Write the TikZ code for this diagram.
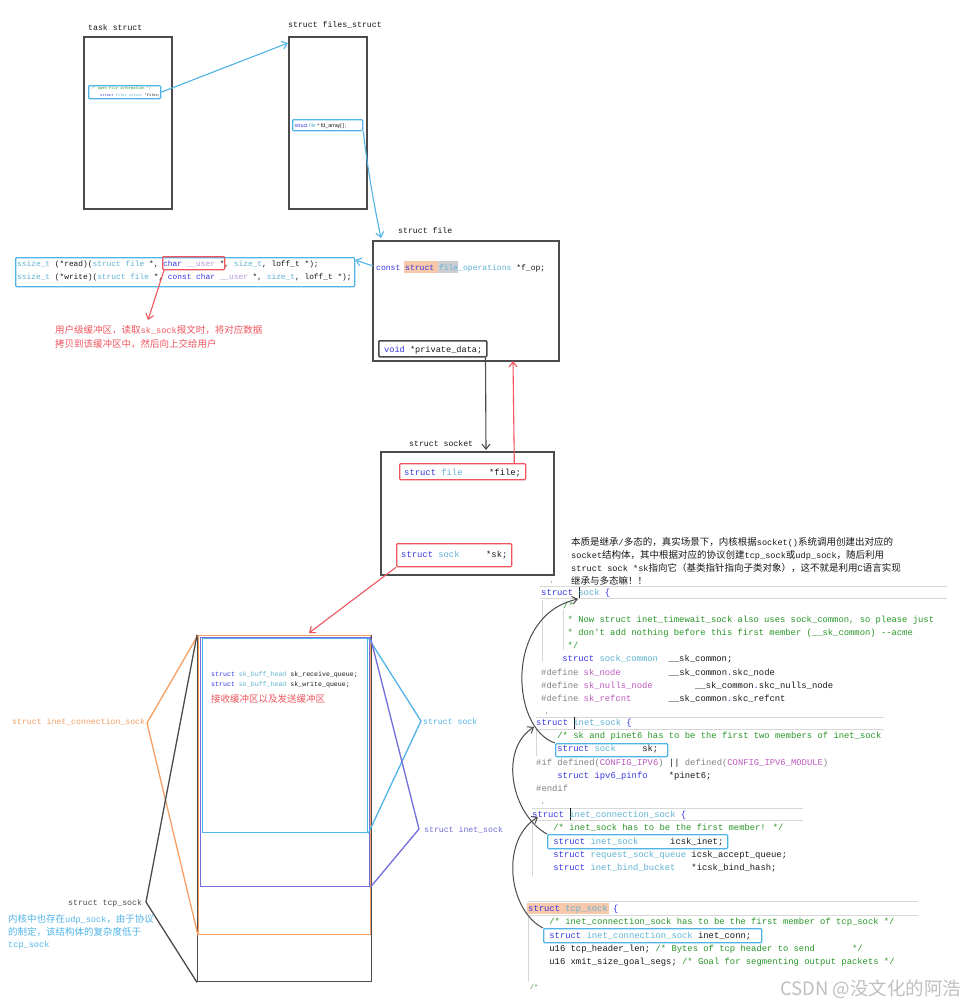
\documentclass[tikz,border=0pt]{standalone}
\usepackage{fontspec}
\usetikzlibrary{arrows.meta,calc}
\newfontfamily\codefont{Liberation Mono}
\newfontfamily\sansfnt{Liberation Sans}
\newfontfamily\cjk{Noto Sans CJK SC}
\definecolor{skyb}{RGB}{80,180,232}
\definecolor{redc}{RGB}{240,85,95}
\definecolor{orgc}{RGB}{246,160,100}
\definecolor{purc}{RGB}{115,110,220}
\definecolor{grayc}{RGB}{75,75,75}
\definecolor{kw}{RGB}{55,55,225}
\definecolor{ty}{RGB}{95,178,210}
\definecolor{cm}{RGB}{40,150,40}
\definecolor{pp}{RGB}{130,130,130}
\definecolor{mac}{RGB}{190,90,190}
\definecolor{usr}{RGB}{180,150,220}
\definecolor{idc}{RGB}{25,25,25}
\definecolor{hlo}{RGB}{248,200,170}
\definecolor{hlg}{RGB}{205,205,210}
\definecolor{guide}{RGB}{215,215,215}
\newcommand\ckw[1]{\textcolor{kw}{#1}}
\newcommand\cty[1]{\textcolor{ty}{#1}}
\newcommand\ccm[1]{\textcolor{cm}{#1}}
\newcommand\cpp[1]{\textcolor{pp}{#1}}
\newcommand\cmc[1]{\textcolor{mac}{#1}}
\newcommand\cus[1]{\textcolor{usr}{#1}}
\newcommand\zhl[1]{{\codefont\fontsize{8.6}{10}\selectfont #1}}
\begin{document}
\begin{tikzpicture}[x=1pt,y=-1pt,
  box/.style={draw=grayc,line width=1.6pt,inner sep=0pt,anchor=north west},
  frm/.style={line width=1.3pt,inner sep=0pt,anchor=north west,rounded corners=1pt},
  lbl/.style={font=\codefont\fontsize{8.2}{9}\selectfont,text=idc,anchor=base west,inner sep=0pt},
  cd/.style={font=\codefont\fontsize{8.85}{10}\selectfont,text=idc,anchor=base west,inner sep=0pt},
  cdb/.style={font=\codefont\fontsize{7.85}{9}\selectfont,text=idc,anchor=base west,inner sep=0pt},
  cdt/.style={font=\codefont\fontsize{3.7}{4}\selectfont,text=idc,anchor=base west,inner sep=0pt},
  cds/.style={font=\codefont\fontsize{6.6}{7}\selectfont,text=idc,anchor=base west,inner sep=0pt},
  zh/.style={font=\cjk\fontsize{9.5}{11}\selectfont,anchor=base west,inner sep=0pt},
  arr/.style={-{Straight Barb[length=5pt,width=8pt]},line width=1.1pt},
  brk/.style={line width=1.3pt},
  gl/.style={draw=guide,line width=0.6pt},
]
\fill[white] (0,0) rectangle (968,1005);
\useasboundingbox (0,0) rectangle (968,1005);

% ---------- task struct / files_struct ----------
\node[lbl] (tasklbl) at (88,30) {task struct};
\node[box,minimum width=88pt,minimum height=172pt] (task) at (83,36) {};
\node[frm,draw=skyb,minimum width=72pt,minimum height=13pt] (tfiles) at (88,85) {};
\node[cdt] (tf1) at (91,89.8) {\ccm{/* open file information */}};
\node[cdt] (tf2) at (100,96.3) {\ckw{struct} \cty{files\_struct} *files;};

\node[lbl] (fileslbl) at (288,27) {struct files\_struct};
\node[box,minimum width=78pt,minimum height=172pt] (files) at (288,36) {};
\node[frm,draw=skyb,minimum width=70pt,minimum height=11pt] (fdbox) at (292,119) {};
\node[font=\sansfnt\fontsize{5.3}{6}\selectfont,anchor=base west,inner sep=0pt,text=idc] (fdtxt) at (294.5,127.3) {\ckw{struct} \cty{file} * fd\_array[\,]\,;};

\coordinate (filesin) at (288,43);
\draw[arr,skyb] (tfiles.east) -- (filesin);

% ---------- struct file ----------
\node[lbl] (filelbl) at (398,233) {struct file};
\node[box,minimum width=186pt,minimum height=120pt] (fileb) at (372,240) {};
\fill[hlo] (404,261) rectangle (438,273);
\fill[hlg] (438,261) rectangle (458,273);
\node[cd,font=\codefont\fontsize{8.05}{9}\selectfont] (fop) at (376,270) {\ckw{const} \ckw{struct} \cty{file\_operations} *f\_op;};
\node[frm,draw=grayc,line width=1.5pt,minimum width=108pt,minimum height=16pt] (privbox) at (378,340) {};
\node[cd,font=\codefont\fontsize{8.6}{9}\selectfont] (privtxt) at (384,352) {\ckw{void} *private\_data;};

\coordinate (filein) at (381,238);
\draw[arr,skyb] (fdbox.south east) .. controls (367,165) and (374,205) .. (filein);

% ---------- file_operations ----------
\node[frm,draw=skyb,minimum width=339pt,minimum height=29pt] (ssize) at (15,257) {};
\node[cdb] (rd) at (17,266) {\cty{ssize\_t} (*read)(\cty{struct file} *, \ckw{char} \cus{\_\_user} *, \cty{size\_t}, loff\_t *);};
\node[cdb] (wr) at (17,279) {\cty{ssize\_t} (*write)(\cty{struct file} *, \ckw{const char} \cus{\_\_user} *, \cty{size\_t}, loff\_t *);};
\node[frm,draw=redc,minimum width=62pt,minimum height=13pt] (userbox) at (162,256) {};
\draw[arr,skyb] ($(fileb.north west)+(1,26)$) -- ($(ssize.north east)+(0,3)$);
\coordinate (usrtip) at (148,320);
\draw[arr,redc] ($(userbox.south west)+(2,0)$) -- (usrtip);
\node[zh,text=redc] (usr1) at (55,333.5) {用户级缓冲区，读取\zhl{sk\_sock}报文时，将对应数据};
\node[zh,text=redc] (usr2) at (55,347) {拷贝到该缓冲区中，然后向上交给用户};

% ---------- struct socket ----------
\node[lbl] (socklbl) at (409,446) {struct socket};
\node[box,minimum width=173pt,minimum height=123pt] (sock) at (380,451) {};
\node[frm,draw=redc,minimum width=126pt,minimum height=16pt] (sfile) at (399,463) {};
\node[cd] (sfiletxt) at (404,475.5) {\ckw{struct} \cty{file}~~~~~*file;};
\node[frm,draw=redc,minimum width=115pt,minimum height=23pt] (ssk) at (396,543) {};
\node[cd] (ssktxt) at (401,557.5) {\ckw{struct} \cty{sock}~~~~~*sk;};

\coordinate (sockin) at (486,450);
\draw[arr,grayc] ($(privbox.south east)+(-2,0)$) -- (sockin);
\coordinate (fileout) at (513,361);
\draw[arr,redc] ($(sfile.north east)+(-12,0)$) -- (fileout);
\coordinate (tcpin) at (309,633);
\draw[arr,redc] (ssk.south west) -- (tcpin);

% ---------- nested sock layout ----------
\node[box,line width=1.4pt,minimum width=174pt,minimum height=346pt] (tcp) at (197,635) {};
\node[draw=orgc,line width=1.3pt,inner sep=0pt,anchor=north west,minimum width=172pt,minimum height=299pt] (icsk) at (198,635) {};
\node[draw=purc,line width=1.3pt,inner sep=0pt,anchor=north west,minimum width=169pt,minimum height=249pt] (inet) at (200,637) {};
\node[draw=skyb,line width=1.3pt,inner sep=0pt,anchor=north west,minimum width=165pt,minimum height=194pt] (bsk) at (202,638) {};
\node[cds] (rq) at (211,676) {\ckw{struct} \cty{sk\_buff\_head} sk\_receive\_queue;};
\node[cds] (wq) at (211,686) {\ckw{struct} \cty{sk\_buff\_head} sk\_write\_queue;};
\node[zh,text=redc] (bufzh) at (211,702.5) {接收缓冲区以及发送缓冲区};

\coordinate (icskpt) at (147,723);
\draw[brk,orgc] (icsk.north west) -- (icskpt) -- (icsk.south west);
\node[lbl,text=orgc] (icsklbl) at (12,724) {struct inet\_connection\_sock};
\coordinate (tcppt) at (146,902);
\draw[brk,grayc] (tcp.north west) -- (tcppt) -- (tcp.south west);
\node[lbl,text=grayc] (tcplbl) at (68,905) {struct tcp\_sock};
\node[zh,text=skyb] (udp1) at (8,922) {内核中也存在\zhl{udp\_sock}，由于协议};
\node[zh,text=skyb] (udp2) at (8,935) {的制定，该结构体的复杂度低于};
\node[zh,text=skyb] (udp3) at (8,947.5) {\zhl{tcp\_sock}};

\coordinate (sockpt) at (421,721);
\draw[brk,skyb] (bsk.north east) -- (sockpt) -- (bsk.south east);
\node[lbl,text=skyb] (socklbl2) at (423,724) {struct sock};
\coordinate (inetpt) at (419,829);
\draw[brk,purc] (inet.north east) -- (inetpt) -- (inet.south east);
\node[lbl,text=purc] (inetlbl) at (424,832) {struct inet\_sock};

% ---------- explanation ----------
\node[zh,text=idc] (ex1) at (571,545) {本质是继承\zhl{/}多态的，真实场景下，内核根据\zhl{socket()}系统调用创建出对应的};
\node[zh,text=idc] (ex2) at (571,558) {\zhl{socket}结构体，其中根据对应的协议创建\zhl{tcp\_sock}或\zhl{udp\_sock}，随后利用};
\node[zh,text=idc] (ex3) at (571,571) {\zhl{struct sock *sk}指向它（基类指针指向子类对象），这不就是利用\zhl{C}语言实现};
\node[zh,text=idc] (ex4) at (571,584) {继承与多态嘛！！};

% ---------- guide lines ----------
\draw[gl] (540,586) -- (947,586);
\draw[gl] (540,598) -- (947,598);
\draw[gl] (536,717) -- (884,717);
\draw[gl] (536,729) -- (884,729);
\draw[gl] (532,808) -- (803,808);
\draw[gl] (532,820) -- (803,820);
\draw[gl] (528,901) -- (918,901);
\draw[gl] (528,915) -- (918,915);
\draw[gl] (542,600) -- (542,662);
\draw[gl] (563,610) -- (563,650);
\draw[gl] (536,730) -- (536,756);
\draw[gl] (532,821) -- (532,876);
\draw[gl] (528,916) -- (528,982);

% ---------- code: struct sock ----------
\node[cds,text=pp] (dot0) at (550,582) {,};
\draw[idc,line width=1pt] (579,587) -- (579,598);
\node[cd] (cs1) at (541,595) {\ckw{struct} \cty{sock} \ckw{\{}};
\node[cd] (cs2) at (563,608) {\ccm{/*}};
\node[cd] (cs3) at (562.2,622) {\ccm{~* Now struct inet\_timewait\_sock also uses sock\_common, so please just}};
\node[cd] (cs4) at (562.2,635) {\ccm{~* don\textquotesingle t add nothing before this first member (\_\_sk\_common) -{}-acme}};
\node[cd] (cs5) at (562.2,648) {\ccm{~*/}};
\node[cd] (cs6) at (562.2,661) {\ckw{struct} \cty{sock\_common}~~\_\_sk\_common;};
\node[cd] (cs7) at (541,675) {\cpp{\#define} \cmc{sk\_node}~~~~~~~~~\_\_sk\_common\ckw{.}skc\_node};
\node[cd] (cs8) at (541,688) {\cpp{\#define} \cmc{sk\_nulls\_node}~~~~~~~~\_\_sk\_common\ckw{.}skc\_nulls\_node};
\node[cd] (cs9) at (541,701) {\cpp{\#define} \cmc{sk\_refcnt}~~~~~~~\_\_sk\_common\ckw{.}skc\_refcnt};
\node[cds,text=pp] (cs10) at (545,713) {,};

% ---------- code: struct inet_sock ----------
\draw[idc,line width=1pt] (574,717) -- (574,729);
\node[cd] (ci1) at (536,725) {\ckw{struct} \cty{inet\_sock} \ckw{\{}};
\node[cd] (ci2) at (557.2,738) {\ccm{/* sk and pinet6 has to be the first two members of inet\_sock}};
\node[frm,draw=skyb,minimum width=112pt,minimum height=13pt] (rsk) at (555,743) {};
\node[cd] (ci3) at (557.2,751.5) {\ckw{struct} \cty{sock}~~~~~sk;};
\node[cd] (ci4) at (536,765) {\cpp{\#if defined(}\cmc{CONFIG\_IPV6}\cpp{)} || \cpp{defined(}\cmc{CONFIG\_IPV6\_MODULE}\cpp{)}};
\node[cd] (ci5) at (557.2,778) {\ckw{struct ipv6\_pinfo}~~~~*pinet6;};
\node[cd] (ci6) at (536,791) {\cpp{\#endif}};
\node[cds,text=pp] (ci7) at (541,803) {,};

% ---------- code: struct inet_connection_sock ----------
\draw[idc,line width=1pt] (570,808) -- (570,820);
\node[cd] (ck1) at (532,817) {\ckw{struct} \cty{inet\_connection\_sock} \ckw{\{}};
\node[cd] (ck2) at (553.2,830) {\ccm{/* inet\_sock has to be the first member! */}};
\node[frm,draw=skyb,minimum width=180pt,minimum height=14pt] (rinet) at (547,834) {};
\node[cd] (ck3) at (553.2,844) {\ckw{struct} \cty{inet\_sock}~~~~~~icsk\_inet;};
\node[cd] (ck4) at (553.2,857) {\ckw{struct} \cty{request\_sock\_queue} icsk\_accept\_queue;};
\node[cd] (ck5) at (553.2,870) {\ckw{struct} \cty{inet\_bind\_bucket}~~~*icsk\_bind\_hash;};

% ---------- code: struct tcp_sock ----------
\fill[hlo] (527,903) rectangle (609,914);
\node[cd] (ct1) at (528,911) {\ckw{struct} \cty{tcp\_sock} \ckw{\{}};
\node[cd] (ct2) at (549.2,924) {\ccm{/* inet\_connection\_sock has to be the first member of tcp\_sock */}};
\node[frm,draw=skyb,minimum width=218pt,minimum height=14pt] (rconn) at (543,928) {};
\node[cd] (ct3) at (549.2,938) {\ckw{struct} \cty{inet\_connection\_sock} inet\_conn;};
\node[cd] (ct4) at (549.2,951) {u16 tcp\_header\_len; \ccm{/* Bytes of tcp header to send~~~~~~~*/}};
\node[cd] (ct5) at (549.2,964) {u16 xmit\_size\_goal\_segs; \ccm{/* Goal for segmenting output packets */}};
\node[cds] (ct6) at (530,989) {\ccm{/*}};

% ---------- inheritance arrows ----------
\coordinate (sockhd) at (578,599);
\draw[arr,grayc,line width=1pt] (rsk.north west) .. controls (510,728) and (505,615) .. (sockhd);
\coordinate (inethd) at (534,727);
\draw[arr,grayc,line width=1pt] (rinet.north west) .. controls (512,815) and (498,750) .. (inethd);
\coordinate (icskhd) at (538,817);
\draw[arr,grayc,line width=1pt] (rconn.north west) .. controls (508,910) and (500,840) .. (icskhd);

% ---------- watermark ----------
\node[font=\cjk\fontsize{18.5}{20}\selectfont,text=gray!50,anchor=base west,inner sep=0pt] (wm) at (780,995) {CSDN @没文化的阿浩};
\end{tikzpicture}
\end{document}
